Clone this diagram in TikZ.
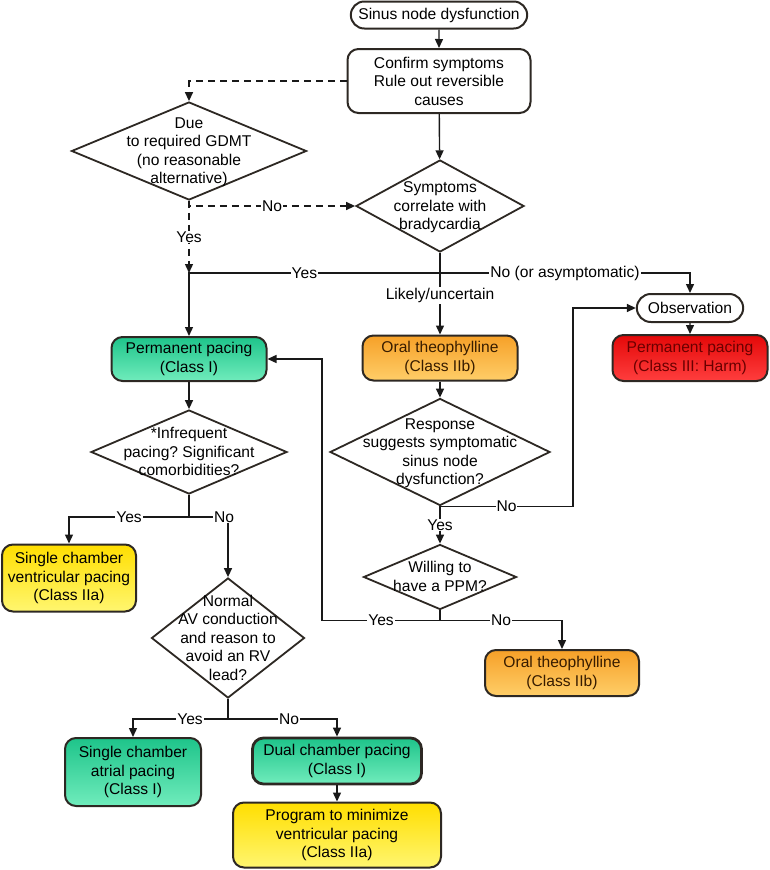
\documentclass[tikz,border=0pt]{standalone}
\usepackage{fontspec}
\setmainfont{Liberation Sans}
\usetikzlibrary{shapes.geometric,shapes.misc,arrows.meta}

\definecolor{edgegray}{RGB}{45,40,35}
\definecolor{greentop}{RGB}{30,196,138}
\definecolor{greenbot}{RGB}{112,236,188}
\definecolor{orangetop}{RGB}{246,160,40}
\definecolor{orangebot}{RGB}{255,206,104}
\definecolor{redtop}{RGB}{228,8,8}
\definecolor{redbot}{RGB}{255,62,62}
\definecolor{redtext}{RGB}{105,0,0}
\definecolor{browntext}{RGB}{55,28,0}
\definecolor{yellowtop}{RGB}{255,222,0}
\definecolor{yellowbot}{RGB}{255,246,112}

% diamond text: takes no room, so the diamond keeps its size
\newcommand{\dlines}[1]{\makebox[0pt]{\raisebox{-5pt}[0pt][0pt]{\begin{tabular}{@{}c@{}}#1\end{tabular}}}}

\tikzset{
  pill/.style={rounded rectangle, draw=edgegray, line width=2pt, fill=white},
  plainbox/.style={rectangle, rounded corners=11pt, draw=edgegray, line width=2pt, align=center},
  greenbox/.style={plainbox, top color=greentop, bottom color=greenbot},
  orangebox/.style={plainbox, top color=orangetop, bottom color=orangebot, text=browntext},
  redbox/.style={plainbox, top color=redtop, bottom color=redbot, text=redtext},
  yellowbox/.style={plainbox, top color=yellowtop, bottom color=yellowbot},
  decision/.style={diamond, draw=edgegray, line width=1.8pt, inner sep=0pt, fill=white},
  line/.style={line width=1.4pt, draw=black!90},
  conn/.style={line, -{Triangle[length=9pt,width=8pt]}},
  dashline/.style={conn, dash pattern=on 7pt off 5pt},
  lab/.style={fill=white, inner sep=1pt},
}

\begin{document}
\begin{tikzpicture}[x=1pt, y=-1pt, every node/.style={font=\fontsize{15.6}{18.5}\selectfont\frenchspacing}]
  \useasboundingbox (0,0) rectangle (769,870);

  % top of the chart
  \node[pill, minimum width=183pt, minimum height=27pt] (start) at (439,15) {Sinus node dysfunction};
  \node[plainbox, fill=white, minimum width=183pt, minimum height=64pt] (confirm) at (439,81) {Confirm symptoms\\Rule out reversible\\causes};
  \node[decision, minimum width=235pt, minimum height=98pt] (due) at (189,151) {\dlines{Due\\to required GDMT\\(no reasonable\\alternative)}};
  \node[decision, minimum width=168pt, minimum height=92pt] (symp) at (440,206) {\dlines{Symptoms\\correlate with\\bradycardia}};

  % right branch
  \node[pill, minimum width=113pt, minimum height=28pt] (obs) at (690,308) {Observation};
  \node[redbox, minimum width=155pt, minimum height=46pt] (harm) at (690,358) {Permanent pacing\\(Class III: Harm)};

  % middle branch
  \node[orangebox, minimum width=155pt, minimum height=45pt] (theo) at (440,358) {Oral theophylline\\(Class IIb)};
  \node[decision, minimum width=220pt, minimum height=107pt] (resp) at (440,452) {\dlines{Response\\suggests symptomatic\\sinus node\\dysfunction?}};
  \node[decision, minimum width=153pt, minimum height=65pt] (will) at (440,577) {\dlines{Willing to\\have a PPM?}};
  \node[orangebox, minimum width=154pt, minimum height=46pt] (theo2) at (562,673) {Oral theophylline\\(Class IIb)};

  % left branch
  \node[greenbox, minimum width=155pt, minimum height=44pt] (perm) at (189,359) {Permanent pacing\\(Class I)};
  \node[decision, minimum width=196pt, minimum height=84pt] (infq) at (189,452) {\dlines{*Infrequent\\pacing? Significant\\comorbidities?}};
  \node[yellowbox, minimum width=134pt, minimum height=67pt] (vent) at (69,578) {Single chamber\\ventricular pacing\\(Class IIa)};
  \node[decision, minimum width=153pt, minimum height=120pt] (norm) at (228,638) {\dlines{Normal\\AV conduction\\and reason to\\avoid an RV\\lead?}};
  \node[greenbox, minimum width=136pt, minimum height=68pt] (atr) at (133,772) {Single chamber\\atrial pacing\\(Class I)};
  \node[greenbox, line width=2.8pt, minimum width=169pt, minimum height=46pt] (dual) at (337,761) {Dual chamber pacing\\(Class I)};
  \node[yellowbox, minimum width=208pt, minimum height=65pt] (prog) at (337,835) {Program to minimize\\ventricular pacing\\(Class IIa)};

  % connectors
  \coordinate (split) at (440,273);
  \draw[conn] (start) -- (confirm);
  \draw[conn] (confirm) -- (symp);
  \draw[dashline] (confirm.west) -| (due.north);
  \draw[dashline] (due.south) |- node[lab,pos=.75]{No} (symp.west);
  \draw[dashline] (due.south) -- node[lab]{Yes} (due.south |- split);
  \draw[line] (symp.south) -- (split);
  \draw[conn] (split) -| node[lab,pos=.27]{Yes} (perm.north);
  \draw[conn] (split) -| node[lab,pos=.25]{No (or asymptomatic)} (obs.north);
  \draw[conn] (split) -- node[lab,pos=.37]{Likely/uncertain} (theo.north);
  \draw[conn] (obs) -- (harm);
  \draw[conn] (theo) -- (resp);
  \draw[conn] (resp.south) -- node[lab]{Yes} (will.north);
  \draw[conn] (resp.south) -- node[lab]{No} ++(133,0) |- (obs.west);
  \draw[line] (will.south) -- ++(0,10) coordinate (wj);
  \draw[conn] (wj) -- node[lab]{Yes} ++(-118,0) |- (perm.east);
  \draw[conn] (wj) -| node[lab,pos=.25]{No} (theo2.north);
  \draw[conn] (perm) -- (infq);
  \draw[line] (infq.south) -- ++(0,22) coordinate (ij);
  \draw[conn] (ij) -| node[lab,pos=.25]{Yes} (vent.north);
  \draw[conn] (ij) -| node[lab,pos=.45]{No} (norm.north);
  \draw[line] (norm.south) -- ++(0,20) coordinate (nj);
  \draw[conn] (nj) -| node[lab,pos=.2]{Yes} (atr.north);
  \draw[conn] (nj) -| node[lab,pos=.28]{No} (dual.north);
  \draw[conn] (dual) -- (prog);
\end{tikzpicture}
\end{document}
